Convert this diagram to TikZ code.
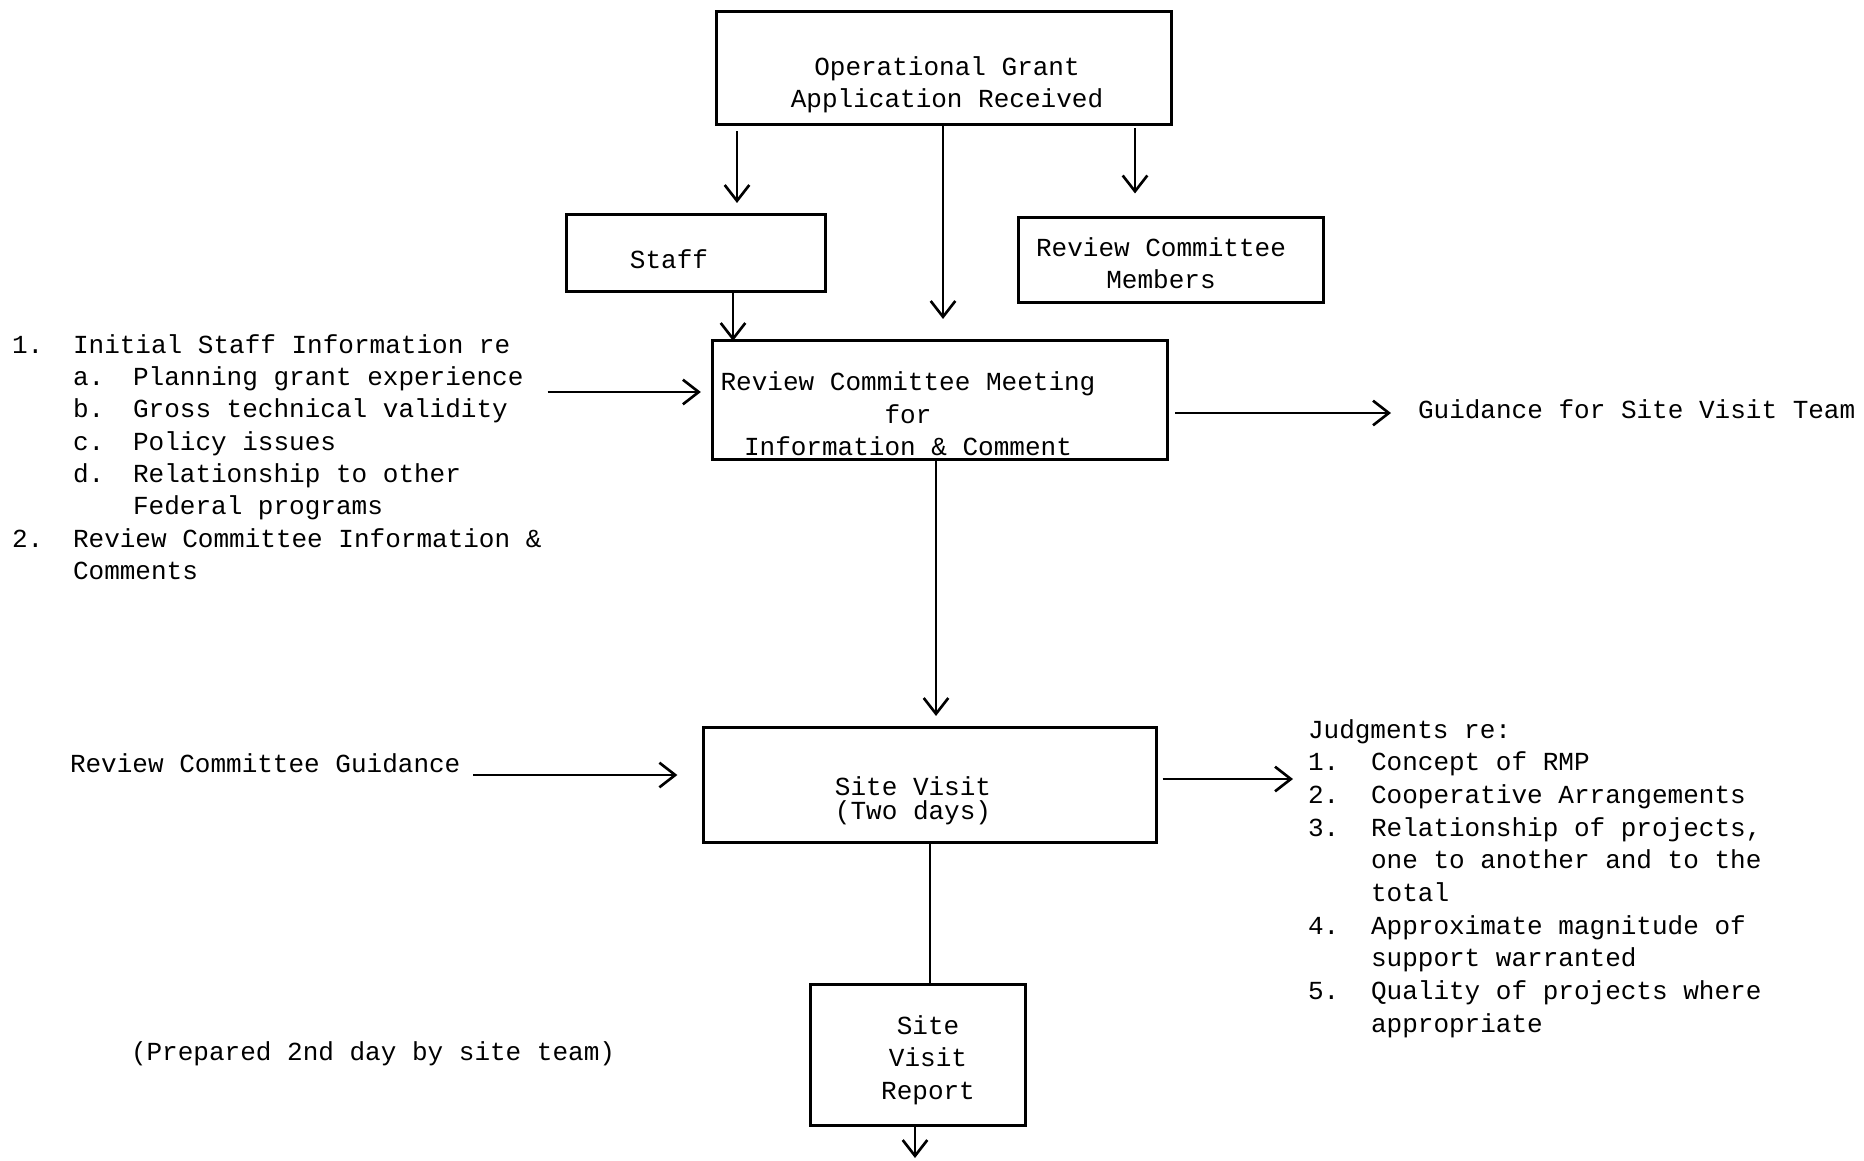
\documentclass[tikz,border=0pt]{standalone}
\usepackage{fontspec}
\setmainfont{Liberation Mono}
\usepackage{tikz}
\usetikzlibrary{arrows.meta}
\newcommand{\twsize}{\fontsize{7.4pt}{9.2pt}\selectfont}
\newcommand{\widesize}{\fontsize{7.4pt}{9.3pt}\selectfont}
\newcommand{\tightsize}{\fontsize{7.4pt}{6.8pt}\selectfont}
\tikzstyle{box}=[draw, line width=0.85pt, inner sep=0, outer sep=0]
\tikzstyle{txt}=[inner sep=0, outer sep=0, font=\twsize, align=center]
\tikzstyle{link}=[draw, line width=0.75pt]
\tikzstyle{flow}=[link, -{Straight Barb[length=4.5pt, width=7pt]}]
\tikzstyle{chart}=[x=0.01cm, y=-0.01cm,
                   % Typed-page look: boxes and lines in black only.
                   every path/.style={black}]

\begin{document}
\begin{tikzpicture}[chart]
        \useasboundingbox (0,0) rectangle (1864,1160);
        % boxes
        \node[box, minimum width=4.55cm, minimum height=1.12cm] (app) at (944,68) {};
        \node[txt] (apptxt) at (947,85) {Operational Grant\\Application Received};
        \node[box, minimum width=2.58cm, minimum height=0.76cm] (staff) at (696,253) {};
        \node[txt] (stafftxt) at (669,259) {Staff};
        \node[box, minimum width=3.04cm, minimum height=0.85cm] (members) at (1171,260) {};
        \node[txt] (memberstxt) at (1161,263) {Review Committee\\Members};
        \node[box, minimum width=4.54cm, minimum height=1.18cm] (meeting) at (940,400) {};
        \node[txt] (meetingtxt) at (908,414) {Review Committee Meeting\\for\\Information \& Comment};
        \node[box, minimum width=4.53cm, minimum height=1.14cm] (visit) at (930,785) {};
        \node[txt, font=\tightsize] (visittxt) at (913,801) {Site Visit\\(Two days)};
        \node[box, minimum width=2.14cm, minimum height=1.40cm] (report) at (918,1055) {};
        \node[txt] (reporttxt) at (928,1060) {Site\\Visit\\Report};
        % side texts
        \node[txt, align=left, anchor=base west] (staffinfo) at (12,353) {%
            \begin{tabular}[t]{@{}p{0.61cm}@{}p{0.60cm}@{}l@{}}
            1. & \multicolumn{2}{@{}l@{}}{Initial Staff Information re}\\
               & a. & Planning grant experience\\
               & b. & Gross technical validity\\
               & c. & Policy issues\\
               & d. & Relationship to other\\
               &    & Federal programs\\
            2. & \multicolumn{2}{@{}l@{}}{Review Committee Information \&}\\
               & \multicolumn{2}{@{}l@{}}{Comments}
            \end{tabular}};
        \node[txt, anchor=west] (guidance) at (1418,409) {Guidance for Site Visit Team};
        \node[txt, anchor=west] (rcguidance) at (70,763) {Review Committee Guidance};
        \node[txt, font=\widesize, align=left, anchor=base west] (judgments) at (1308,738) {%
            \begin{tabular}[t]{@{}p{0.63cm}@{}l@{}}
            \multicolumn{2}{@{}l@{}}{Judgments re:}\\
            1. & Concept of RMP\\
            2. & Cooperative Arrangements\\
            3. & Relationship of projects,\\
               & one to another and to the\\
               & total\\
            4. & Approximate magnitude of\\
               & support warranted\\
            5. & Quality of projects where\\
               & appropriate
            \end{tabular}};
        \node[txt, anchor=west] (prepared) at (131,1054) {(Prepared 2nd day by site team)};
        \coordinate (out) at (915,1158);
        % connectors
        \draw[flow, shorten <=0.07cm, shorten >=0.12cm] (app.south -| 737,0) -- (staff.north -| 737,0);
        \draw[flow, shorten >=0.22cm] (app.south -| 943,0) -- (meeting.north -| 943,0);
        \draw[flow, shorten <=0.04cm, shorten >=0.24cm] (app.south -| 1135,0) -- (members.north -| 1135,0);
        \draw[flow] (staff.south -| 733,0) -- (meeting.north -| 733,0);
        \draw[flow, shorten <=0.06cm, shorten >=0.12cm] (staffinfo.east |- 0,392) -- (meeting.west |- 0,392);
        \draw[flow, shorten <=0.08cm, shorten >=0.27cm] (meeting.east |- 0,413) -- (guidance.west |- 0,413);
        \draw[flow, shorten >=0.12cm] (meeting.south -| 936,0) -- (visit.north -| 936,0);
        \draw[flow, shorten <=0.13cm, shorten >=0.26cm] (rcguidance.east |- 0,775) -- (visit.west |- 0,775);
        \draw[flow, shorten <=0.06cm, shorten >=0.15cm] (visit.east |- 0,779) -- (judgments.west |- 0,779);
        \draw[link] (visit.south -| 930,0) -- (report.north -| 930,0);
        \draw[flow, shorten <=0.02cm] (report.south -| 915,0) -- (out);
\end{tikzpicture}
\end{document}
